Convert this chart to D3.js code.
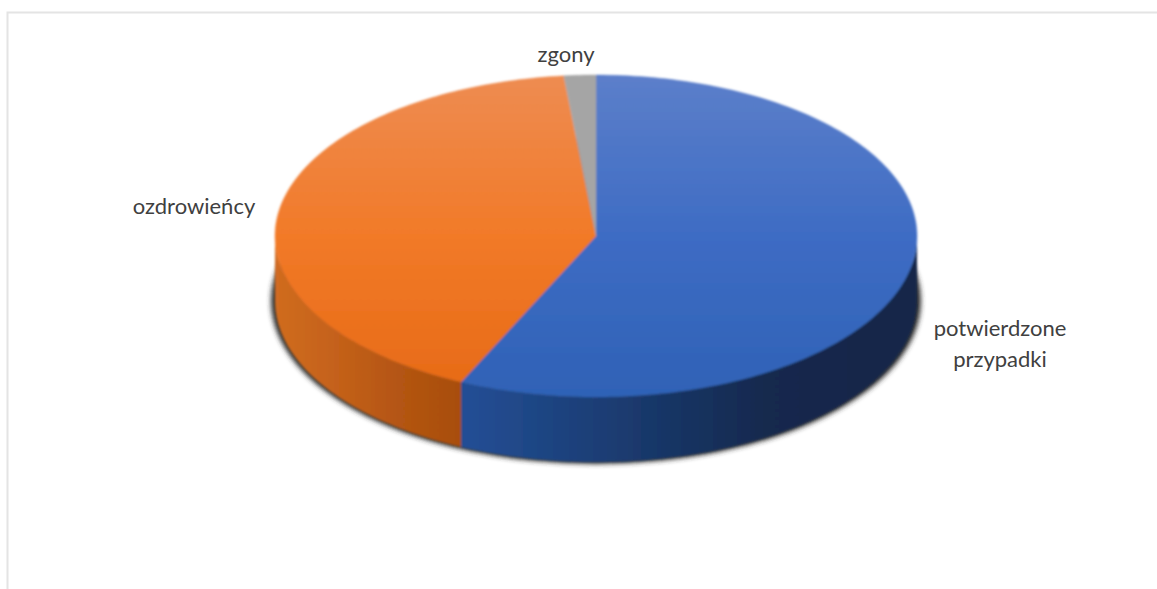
<!DOCTYPE html>
<html>
<head>
<meta charset="utf-8">
<script src="https://cdn.jsdelivr.net/npm/d3@7/dist/d3.min.js"></script>
<style>
html,body{margin:0;padding:0;background:#fff;overflow:hidden}
svg{display:block}
text{font-family:Lato,"Noto Sans",sans-serif;font-size:22px;fill:#404040}
</style>
</head>
<body>
<svg id="chart" width="1157" height="589"></svg>
<script>
// Shares of each group, clockwise from twelve o'clock
const categories = ["potwierdzone przypadki", "ozdrowieńcy", "zgony"];
const values = [56.9, 41.5, 1.6];
const topColors = [
  ["#5c7fca", "#3e6cc4", "#2f62b6"],
  ["#ee8c52", "#f27a28", "#e66a16"],
  ["#a5a5a5", "#a5a5a5", "#a5a5a5"]
];
const wallColors = [
  ["#234f96", "#1b3c72", "#14294e", "#132648"],
  ["#d06c20", "#c4611a", "#b45512", "#a84e0f"],
  ["#7c7c7c", "#7c7c7c", "#7c7c7c", "#7c7c7c"]
];
const labelLines = [["potwierdzone", "przypadki"], ["ozdrowieńcy"], ["zgony"]];
const labelAnchors = [[1000, 336], [194, 214], [566, 62]];

const width = 1157, height = 589;
const cx = 596, cy = 236, rx = 321, ry = 161, depth = 65;

const svg = d3.select("#chart");
const defs = svg.append("defs");

// Frame: only the top and left edges are visible
svg.append("path")
  .attr("d", `M7.5,${height}V12.5H${width}`)
  .attr("fill", "none")
  .attr("stroke", "#e4e4e4")
  .attr("stroke-width", 2);

const pie = d3.pie().sort(null).value(d => d)(values);

// Elliptical projection of a pie angle
const px = a => cx + rx * Math.sin(a);
const py = (a, z = 0) => cy - ry * Math.cos(a) + z;

// Arc segment along the rim, optionally dropped to the lower edge
const rim = (a0, a1, z) => {
  const n = Math.max(2, Math.ceil(Math.abs(a1 - a0) / 0.02));
  return d3.range(n + 1).map(i => {
    const a = a0 + (a1 - a0) * i / n;
    return [px(a), py(a, z)];
  });
};
const polyline = d3.line();

const frontRange = s => {
  const a0 = Math.max(s.startAngle, Math.PI / 2);
  const a1 = Math.min(s.endAngle, 3 * Math.PI / 2);
  return a0 < a1 ? [a0, a1] : null;
};

// Vertical gradients for the top face, horizontal for the side wall
pie.forEach((s, i) => {
  const g = defs.append("linearGradient")
    .attr("id", "top" + i).attr("gradientUnits", "userSpaceOnUse")
    .attr("x1", 0).attr("x2", 0).attr("y1", cy - ry).attr("y2", cy + ry);
  topColors[i].forEach((c, k) =>
    g.append("stop").attr("offset", k / (topColors[i].length - 1)).attr("stop-color", c));

  const r = frontRange(s);
  if (!r) return;
  const w = defs.append("linearGradient")
    .attr("id", "wall" + i).attr("gradientUnits", "userSpaceOnUse")
    .attr("x1", Math.min(px(r[0]), px(r[1])))
    .attr("x2", Math.max(px(r[0]), px(r[1])))
    .attr("y1", 0).attr("y2", 0);
  wallColors[i].forEach((c, k) =>
    w.append("stop").attr("offset", k / (wallColors[i].length - 1)).attr("stop-color", c));
});

// Soft dark shadow hugging the lower outline
defs.append("filter").attr("id", "shadow")
  .attr("x", "-5%").attr("y", "-10%").attr("width", "110%").attr("height", "120%")
  .append("feGaussianBlur").attr("stdDeviation", 2.4);

defs.append("filter").attr("id", "soft")
  .attr("x", "-2%").attr("y", "-2%").attr("width", "104%").attr("height", "104%")
  .append("feGaussianBlur").attr("stdDeviation", 0.8);

svg.append("ellipse")
  .attr("class", "shadow")
  .attr("cx", cx).attr("cy", cy + depth)
  .attr("rx", rx + 4).attr("ry", ry + 2)
  .attr("fill", "#2e2e2e")
  .attr("filter", "url(#shadow)");

const body = svg.append("g").attr("filter", "url(#soft)");

// Side walls of the visible front half
pie.forEach((s, i) => {
  const r = frontRange(s);
  if (!r) return;
  const upper = rim(r[0], r[1], 0);
  const lower = rim(r[1], r[0], depth);
  body.append("path")
    .attr("class", "wall")
    .attr("d", polyline([...upper, ...lower]) + "Z")
    .attr("fill", `url(#wall${i})`);
});

// Top face wedges
pie.forEach((s, i) => {
  const wedge = [[cx, cy], ...rim(s.startAngle, s.endAngle, 0)];
  body.append("path")
    .attr("class", "slice")
    .attr("d", polyline(wedge) + "Z")
    .attr("fill", `url(#top${i})`)
    .attr("stroke", `url(#top${i})`)
    .attr("stroke-width", 0.4);
});

// Category labels
categories.forEach((name, i) => {
  const t = svg.append("text")
    .attr("x", labelAnchors[i][0]).attr("y", labelAnchors[i][1])
    .attr("text-anchor", "middle");
  labelLines[i].forEach((line, k) =>
    t.append("tspan").attr("x", labelAnchors[i][0]).attr("dy", k ? 31 : 0).text(line));
});
</script>
</body>
</html>
